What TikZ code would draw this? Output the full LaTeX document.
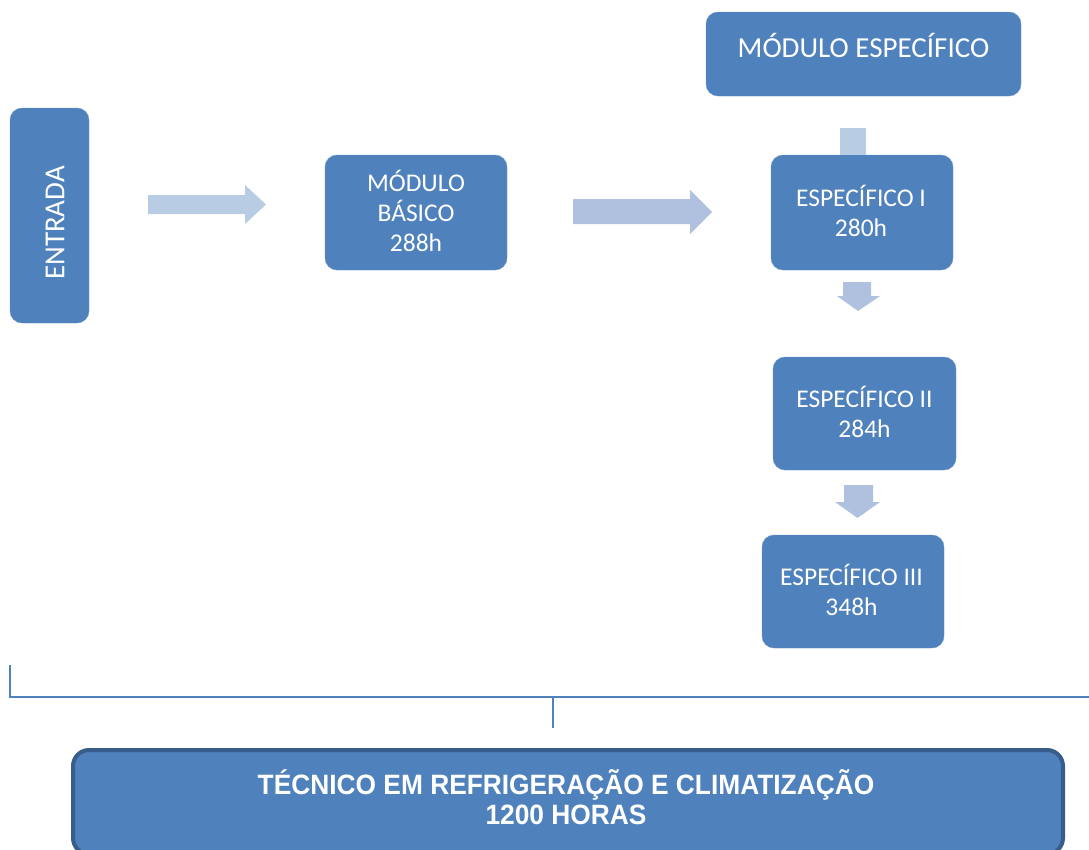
\documentclass[tikz,border=0pt]{standalone}
\usepackage{fontspec}
\setmainfont{Carlito}
\newfontfamily\titlefont[FakeStretch=0.94]{Liberation Sans}
\definecolor{boxblue}{HTML}{4F81BD}
\definecolor{boxedge}{HTML}{385D8A}
\definecolor{arrowA}{HTML}{B8CCE4}
\definecolor{arrowB}{HTML}{AFC1DE}
\tikzset{
  modbox/.style={fill=boxblue, draw=boxblue!85!white, rounded corners=12pt, text=white,
    align=center, inner sep=0pt, font=\fontsize{25.5}{30}\selectfont},
  bigbox/.style={modbox, font=\fontsize{29}{34}\selectfont},
  totalbox/.style={fill=boxblue, draw=boxedge, line width=4pt, rounded corners=16pt},
  totaltext/.style={text=white, align=center, font=\titlefont\bfseries\fontsize{28}{30}\selectfont},
  bracket/.style={draw=boxblue, line width=1.5pt}
}
\begin{document}
\begin{tikzpicture}[x=1pt, y=-1pt]
    \useasboundingbox (0,0) rectangle (1089,849);

    \node[bigbox, minimum width=79, minimum height=215] (entrada) at (49.5, 215.5) {};
    \node[font=\fontsize{29}{34}\selectfont, text=white, rotate=90] (entradatxt) at (55, 223) {ENTRADA};
    \node[modbox, minimum width=182, minimum height=115] (basico) at (416, 212.5) {};
    \node[modbox, fill=none, draw=none] (basicotxt) at (416, 210.5) {MÓDULO\\BÁSICO\\288h};
    \node[bigbox, minimum width=315, minimum height=84] (mesp) at (863.5, 54) {};
    \node[font=\fontsize{29}{34}\selectfont, text=white] (mesptxt) at (863.5, 45.5) {MÓDULO ESPECÍFICO};
    \node[modbox, minimum width=182, minimum height=115] (espI) at (862, 212.5) {};
    \node[modbox, fill=none, draw=none] (espItxt) at (861, 210.5) {ESPECÍFICO I\\280h};
    \node[modbox, minimum width=183, minimum height=113] (espII) at (864.5, 413.5) {};
    \node[modbox, fill=none, draw=none] (espIItxt) at (864.5, 411.5) {ESPECÍFICO II\\284h};
    \node[modbox, minimum width=182, minimum height=113] (espIII) at (853, 591.5) {};
    \node[modbox, fill=none, draw=none] (espIIItxt) at (851.5, 589.5) {ESPECÍFICO III\\348h};
    \node[totalbox, minimum width=990, minimum height=104] (total) at (568, 802) {};
    \node[totaltext] (totaltxt) at (566, 797) {TÉCNICO EM REFRIGERAÇÃO E CLIMATIZAÇÃO\\1200 HORAS};

    % block arrows
    \fill[arrowA] (148,195) -- (245,195) -- (245,185) -- (266,204.5) -- (245,224) -- (245,214) -- (148,214) -- cycle;
    \fill[arrowB] (573,199) -- (690,199) -- (690,190) -- (712,212) -- (690,234) -- (690,224) -- (573,224) -- cycle;
    \fill[arrowA] (840,128) rectangle (866,155);
    \fill[arrowB] (843,282) -- (871,282) -- (871,296) -- (880,296) -- (858,311) -- (837,296) -- (843,296) -- cycle;
    \fill[arrowB] (844,485) -- (873,485) -- (873,502) -- (880,502) -- (857.5,518) -- (835,502) -- (844,502) -- cycle;

    % bracket
    \coordinate (bl) at (10,665);
    \coordinate (br) at (1089,697);
    \coordinate (bm) at (553,697);
    \coordinate (bd) at (553,728);
    \draw[bracket] (bl) |- (br);
    \draw[bracket] (bm) -- (bd);
\end{tikzpicture}
\end{document}
